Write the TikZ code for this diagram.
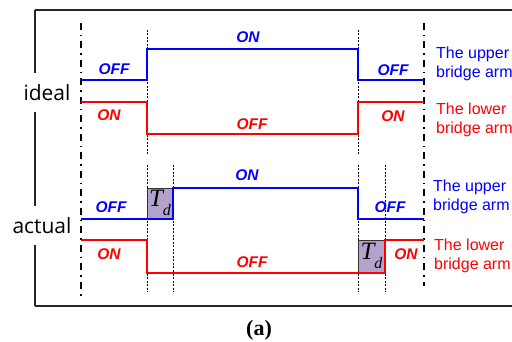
\documentclass[tikz,border=0pt]{standalone}
\usepackage{fontspec}
\setmainfont{Liberation Serif}
\newfontfamily\armfont{Liberation Sans}
\newfontfamily\sidefont{Open Sans}
\definecolor{tdfill}{RGB}{178,162,204}
\begin{document}
\begin{tikzpicture}[x=1pt,y=-1pt,
  wave/.style={line width=2.6pt,line join=miter},
  bluewave/.style={wave,draw=blue},
  redwave/.style={wave,draw=red},
  dashdot/.style={line width=1.8pt,dash pattern=on 7pt off 5pt on 1.5pt off 5pt},
  fineguide/.style={line width=0.7pt,dash pattern=on 2pt off 1.5pt},
  state/.style={font=\armfont\fontsize{15.5}{15.5}\selectfont\bfseries\itshape,inner sep=0pt},
  bluestate/.style={state,text=blue},
  redstate/.style={state,text=red},
  armlabel/.style={font=\armfont\fontsize{16}{19}\selectfont,align=left,anchor=north west,inner sep=0pt},
  rowlabel/.style={font=\sidefont\fontsize{21}{21}\selectfont,fill=white,inner xsep=1pt,minimum height=39pt},
  tdbox/.style={draw=black!80,line width=0.6pt,fill=tdfill},
  tdlabel/.style={font=\fontsize{25}{25}\selectfont\itshape,inner sep=0pt}
]
\useasboundingbox (0,0) rectangle (512,342);
\clip (0,0) rectangle (512,342);
% frame
\draw[line width=1.2pt,black!85] (35,10) -- (530,10);
\draw[line width=1.2pt,black!85] (35,306) -- (530,306);
\draw[line width=1.2pt,black!85] (35,10) -- (35,306);
% row labels
\node[rowlabel] (ideal) at (47,93) {ideal};
\node[rowlabel] (actual) at (42,226) {actual};
% guide lines
\draw[dashdot] (81,23) -- (81,298);
\draw[dashdot] (424,23) -- (424,286);
\draw[fineguide] (147,30) -- (147,154);
\draw[fineguide] (358,30) -- (358,154);
\draw[fineguide] (147,165) -- (147,292);
\draw[fineguide] (173,165) -- (173,292);
\draw[fineguide] (358,165) -- (358,292);
\draw[fineguide] (385,165) -- (385,292);
% Td boxes
\draw[tdbox] (147,188) rectangle (173,219);
\draw[tdbox] (358,240) rectangle (385,273);
\node[tdlabel] (td1) at (160,203) {T\raisebox{-0.38em}{\fontsize{16}{16}\selectfont d}};
\node[tdlabel] (td2) at (371.5,256) {T\raisebox{-0.38em}{\fontsize{16}{16}\selectfont d}};
% ideal waveforms
\draw[bluewave] (81,80) -- (147,80) -- (147,49) -- (358,49) -- (358,80) -- (424,80);
\draw[redwave] (81,102) -- (147,102) -- (147,134) -- (358,134) -- (358,102) -- (424,102);
% actual waveforms
\draw[bluewave] (81,219) -- (173,219) -- (173,188) -- (358,188) -- (358,219) -- (424,219);
\draw[redwave] (81,240) -- (147,240) -- (147,273) -- (385,273) -- (385,240) -- (424,240);
% state labels ideal
\node[bluestate] (i1) at (248,37) {ON};
\node[bluestate] (i2) at (114,69) {OFF};
\node[bluestate] (i3) at (393,70) {OFF};
\node[redstate] (i4) at (109,115) {ON};
\node[redstate] (i5) at (252,124) {OFF};
\node[redstate] (i6) at (393,116) {ON};
% state labels actual
\node[bluestate] (a1) at (247,175.5) {ON};
\node[bluestate] (a2) at (111,207) {OFF};
\node[bluestate] (a3) at (390,207) {OFF};
\node[redstate] (a4) at (109,254) {ON};
\node[redstate] (a5) at (252,262) {OFF};
\node[redstate] (a6) at (406,254) {ON};
% arm labels
\node[armlabel,text=blue] (u1) at (436,46.5) {The upper\\bridge arm};
\node[armlabel,text=red] (l1) at (436,102.5) {The lower\\bridge arm};
\node[armlabel,text=blue] (u2) at (433,179.5) {The upper\\bridge arm};
\node[armlabel,text=red] (l2) at (434,238.5) {The lower\\bridge arm};
% caption
\node[font=\fontsize{22}{22}\selectfont\bfseries,inner sep=0pt] (cap) at (259,330) {(a)};
\end{tikzpicture}
\end{document}
